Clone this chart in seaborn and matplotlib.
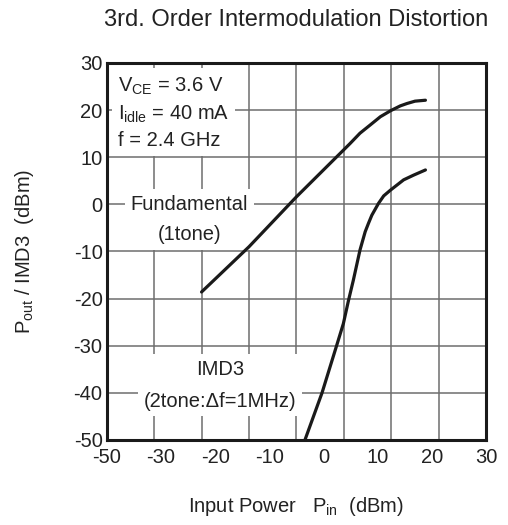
import numpy as np
import pandas as pd
import seaborn as sns
import matplotlib
matplotlib.use("Agg")
import matplotlib.pyplot as plt

# values
fund_pin = [-30.0, -20.0, -10.0, -5.0, -0.8, 1.3, 3.4, 5.5, 7.7, 9.9, 11.9, 13.3, 15.0, 17.2]
fund_pout = [-18.6, -9.0, 1.6, 6.6, 10.8, 12.9, 15.1, 16.8, 18.6, 19.9, 20.9, 21.4, 21.9, 22.1]

imd_pin = [-8.2, -4.6, -1.5, -0.1, 1.0, 2.0, 2.7, 3.4, 4.5, 5.2, 5.9, 7.3, 8.4, 9.8, 12.6, 14.7, 17.2]
imd_pout = [-50.0, -40.0, -29.9, -25.3, -20.3, -16.1, -12.9, -9.7, -5.8, -4.0, -2.3, 0.2, 1.8, 3.0, 5.2, 6.2, 7.3]

x_grid = [-50, -40, -30, -20, -10, 0, 10, 20, 30]
y_grid = [-50, -40, -30, -20, -10, 0, 10, 20, 30]
# the original sheet spreads its x labels evenly, not on the grid lines
x_tick_labels = ["-50", "-30", "-20", "-10", "0", "10", "20", "30"]
y_tick_labels = ["-50", "-40", "-30", "-20", "-10", "0", "10", "20", "30"]

df_fund = pd.DataFrame({"pin": fund_pin, "pout": fund_pout})
df_imd = pd.DataFrame({"pin": imd_pin, "pout": imd_pout})

sns.set_style("white")
plt.rcParams["font.family"] = ["Liberation Sans", "DejaVu Sans"]
plt.rcParams["mathtext.fontset"] = "custom"
plt.rcParams["mathtext.rm"] = "Liberation Sans"
plt.rcParams["mathtext.it"] = "Liberation Sans:italic"
txt = "#222222"

fig = plt.figure(figsize=(5.08, 5.25), dpi=100)
ax = fig.add_axes([0.210, 0.162, 0.747, 0.718])

sns.lineplot(data=df_fund, x="pin", y="pout", ax=ax, color="#1a1a1a", lw=2.3, zorder=5)
sns.lineplot(data=df_imd, x="pin", y="pout", ax=ax, color="#1a1a1a", lw=2.3, zorder=5)

ax.set_xlim(-50, 30)
ax.set_ylim(-50, 30)
ax.xaxis.remove_overlapping_locs = False
ax.set_xticks(x_grid)
ax.set_xticklabels([])
ax.set_xticks(np.linspace(-50, 30, len(x_tick_labels)), minor=True)
ax.set_xticklabels(x_tick_labels, minor=True)
ax.set_yticks(y_grid)
ax.set_yticklabels(y_tick_labels)
ax.tick_params(axis="x", which="both", length=0, pad=6, labelsize=14.5, colors=txt)
ax.tick_params(axis="y", length=0, pad=3, labelsize=14.5, colors=txt)
ax.grid(True, which="major", color="#6e6e6e", lw=1.1)
ax.grid(False, which="minor")
ax.set_axisbelow(True)
for s in ax.spines.values():
    s.set_color("#1a1a1a")
    s.set_linewidth(2.2)
    s.set_zorder(6)

ax.set_xlabel("Input Power   P$_{\\rm in}$  (dBm)", fontsize=14.5, color=txt)
ax.set_ylabel("P$_{\\rm out}$ / IMD3  (dBm)", fontsize=14.5, color=txt)
ax.xaxis.set_label_coords(0.5, -0.145)
ax.yaxis.set_label_coords(-0.185, 0.5)
ax.set_title("3rd. Order Intermodulation Distortion", fontsize=17, color=txt, pad=27)

box = dict(facecolor="white", edgecolor="none", pad=4)
ax.text(-47.6, 27.4, "V$_{\\rm CE}$ = 3.6 V\nI$_{\\rm idle}$ = 40 mA\nf = 2.4 GHz",
        fontsize=14.5, color=txt, ha="left", va="top", linespacing=1.42,
        bbox=dict(facecolor="white", edgecolor="none", pad=4), zorder=4)
ax.text(-32.6, -3.2, "Fundamental\n(1tone)", fontsize=14.5, color=txt,
        ha="center", va="center", linespacing=1.75, bbox=box, zorder=4)
ax.text(-26.1, -38.4, "IMD3\n(2tone:\u0394f=1MHz)", fontsize=14.5, color=txt,
        ha="center", va="center", linespacing=1.85, bbox=box, zorder=4)

fig.savefig("out.png", dpi=100)
